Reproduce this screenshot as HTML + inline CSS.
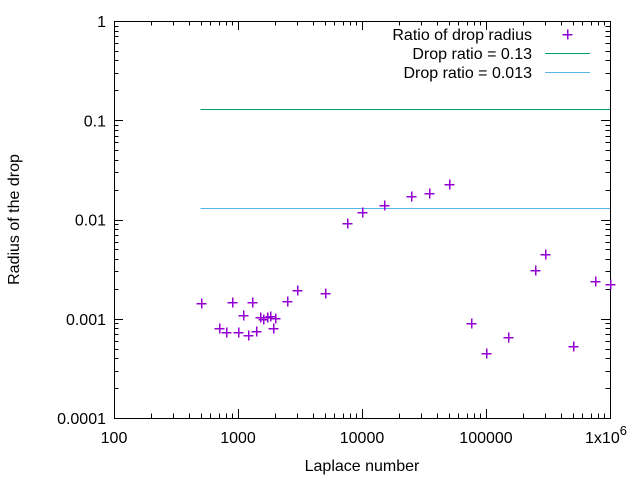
<!DOCTYPE html>
<html><head><meta charset="utf-8"><style>
html,body{margin:0;padding:0;background:#fff}
svg{display:block;font-family:"Liberation Sans",sans-serif}
</style></head><body>
<svg id="chart" width="640" height="480">
</svg>
<script>
const xs = [500,700,800,900,1000,1100,1200,1300,1400,1500,1600,1700,1800,1900,2000,2500,3000,5000,7500,10000,15000,25000,35000,50000,75000,100000,150000,250000,300000,500000,750000,1000000];
const ys = [0.00143,0.0008,0.00073,0.00146,0.00073,0.00108,0.00068,0.00146,0.00075,0.00103,0.00099,0.00103,0.00107,0.0008,0.00101,0.0015,0.00194,0.0018,0.00916,0.012,0.014,0.0171,0.0184,0.0226,0.00091,0.00045,0.00065,0.00308,0.00446,0.00053,0.00238,0.00224];
const lineVals = [0.13, 0.013];
const lineRange = [500, 1000000];
const xTickVals = [100,1000,10000,100000];
const xTickLabels = ["100","1000","10000","100000"];
const yTickVals = [1,0.1,0.01,0.001,0.0001];
const yTickLabels = ["1","0.1","0.01","0.001","0.0001"];

const L=114,R=610,T=21,B=418;
const X=v=>L+(Math.log10(v)-2)/4*(R-L);
const Y=v=>T+(-Math.log10(v))/4*(B-T);
const S=v=>Math.round(v)+0.5;
const svg=document.getElementById('chart');
const NS='http://www.w3.org/2000/svg';
function mk(tag,attrs,parent){const e=document.createElementNS(NS,tag);for(const k in attrs)e.setAttribute(k,attrs[k]);(parent||svg).appendChild(e);return e;}

const frame=mk('rect',{x:L+0.5,y:T+0.5,width:R-L,height:B-T,fill:'none',stroke:'#000','stroke-width':1,'shape-rendering':'crispEdges'});



for(let d=2;d<=6;d++){
  for(let m=1;m<10;m++){
    const v=m*Math.pow(10,d); if(d==6&&m>1)break;
    const px=S(X(v)), len=m==1?9:4.5;
    const t=mk('path',{d:`M${px},${B}v${-len}M${px},${T}v${len}`,stroke:'#000','stroke-width':1,'shape-rendering':'crispEdges'});
    
    
  }
}
xTickVals.forEach((v,i)=>{
  const t=mk('text',{x:X(v),y:B+25,'text-anchor':'middle','font-size':16});
  t.textContent=xTickLabels[i];
  
  
});
const xl=mk('text',{x:X(1e6)-4,y:B+25,'text-anchor':'middle','font-size':16});
xl.innerHTML='1x10<tspan dy="-8" font-size="13">6</tspan>';



for(let d=-4;d<=0;d++){
  for(let m=1;m<10;m++){
    const v=m*Math.pow(10,d); if(d==0&&m>1)break;
    const py=S(Y(v)), len=m==1?9:4.5;
    const t=mk('path',{d:`M${L},${py}h${len}M${R},${py}h${-len}`,stroke:'#000','stroke-width':1,'shape-rendering':'crispEdges'});
    
    
  }
}
yTickVals.forEach((v,i)=>{
  const t=mk('text',{x:L-8,y:Y(v)+6,'text-anchor':'end','font-size':16});
  t.textContent=yTickLabels[i];
  
  
});

const xt=mk('text',{x:(L+R)/2,y:471,'text-anchor':'middle','font-size':16});
xt.textContent='Laplace number';


const yt=mk('text',{x:0,y:0,'text-anchor':'middle','font-size':16,transform:`translate(19,${(T+B)/2}) rotate(-90)`});
yt.textContent='Radius of the drop';



const colors=['#009e73','#56b4e9'];
lineVals.forEach((v,i)=>{
  const l=mk('line',{x1:X(lineRange[0]),x2:X(lineRange[1]),y1:S(Y(v)),y2:S(Y(v)),stroke:colors[i],'stroke-width':1,'shape-rendering':'crispEdges'});
  
  
});

xs.forEach((v,i)=>{
  const px=S(X(v)),py=S(Y(ys[i]));
  const p=mk('path',{d:`M${px-5},${py}h10M${px},${py-5}v10`,stroke:'#9400d3','stroke-width':1.5,'shape-rendering':'crispEdges'});
  
  
});

const leg=[['Ratio of drop radius',null],['Drop ratio = 0.13',colors[0]],['Drop ratio = 0.013',colors[1]]];
leg.forEach((e,i)=>{
  const y=34+i*19;
  const t=mk('text',{x:532,y:y+6,'text-anchor':'end','font-size':16});
  t.textContent=e[0];
  
  
  let s;
  if(e[1]) s=mk('line',{x1:545,x2:590,y1:y+0.5,y2:y+0.5,stroke:e[1],'stroke-width':1,'shape-rendering':'crispEdges'});
  else s=mk('path',{d:`M${567.5-5},${y+0.5}h10M567.5,${y+0.5-5}v10`,stroke:'#9400d3','stroke-width':1.5,'shape-rendering':'crispEdges'});
  
  
});
</script>
</body></html>
